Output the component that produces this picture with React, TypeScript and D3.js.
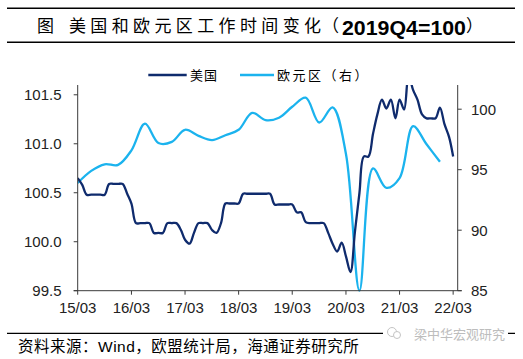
import React from "react";
import * as d3 from "d3";

// US average working hours, monthly from 2015-03 (left axis, 2019Q4=100)
const usValues: number[] = [
  100.65, 100.58, 100.48, 100.48, 100.48, 100.48, 100.48, 100.59, 100.59, 100.59,
  100.59, 100.49, 100.39, 100.19, 100.19, 100.19, 100.19, 100.09, 100.09, 100.09,
  100.19, 100.19, 100.19, 100.12, 100.02, 99.98, 100.09, 100.19, 100.19, 100.19,
  100.12, 100.09, 100.19, 100.39, 100.39, 100.39, 100.39, 100.49, 100.49, 100.49,
  100.49, 100.49, 100.49, 100.49, 100.38, 100.38, 100.38, 100.38, 100.38, 100.3,
  100.3, 100.2, 100.19, 100.19, 100.19, 100.19, 100.09, 99.98, 99.9, 99.99,
  99.85, 99.69, 100.1, 100.5, 100.87, 100.87, 101.1, 101.3, 101.45, 101.36,
  101.45, 101.26, 101.45, 101.35, 101.7, 101.55, 101.45, 101.3, 101.26, 101.26,
  101.26, 101.37, 101.2, 101.07, 100.87,
];

// Euro area working hours, quarterly from 2015-03 (right axis)
const euValues: number[] = [
  93.9, 94.9, 95.45, 95.4, 96.6, 98.8, 97.2, 97.3, 98.3, 97.8,
  97.45, 97.85, 98.3, 99.7, 99.1, 99.3, 100.2, 100.95, 98.9, 100.15,
  96.3, 85.0, 95.1, 93.5, 94.3, 98.6, 97.1, 95.66,
];

const xTickLabels = ["15/03", "16/03", "17/03", "18/03", "19/03", "20/03", "21/03", "22/03"];
const leftTicks = [99.5, 100.0, 100.5, 101.0, 101.5];
const rightTicks = [85, 90, 95, 100];
const seriesNames = ["美国", "欧元区（右）"];

const DARK = "#0f2b6d";
const LIGHT = "#1bb3ee";
const AXIS = "#3a3a3a";
const CJK = "'Noto Sans CJK SC', 'Noto Sans', sans-serif";
const LAT = "'Liberation Sans', Arial, sans-serif";

const monthDate = (i: number) => new Date(2015, 2 + i, 1);
const quarterDate = (i: number) => new Date(2015, 2 + 3 * i, 1);
const labelDate = (s: string) => {
  const [yy, mm] = s.split("/").map(Number);
  return new Date(2000 + yy, mm - 1, 1);
};

export default function App() {
  const L = 77.7, R = 457.7, T = 85, B = 290.7;
  const x = d3.scaleTime().domain([new Date(2015, 2, 1), new Date(2022, 3, 1)]).range([L, R]);
  const yL = d3.scaleLinear().domain([99.5, 101.6]).range([B, T]);
  const yR = d3.scaleLinear().domain([85, 102]).range([B, T]);

  const usLine = d3
    .line<number>()
    .x((_, i) => x(monthDate(i)))
    .y((d) => yL(d))
    .curve(d3.curveCatmullRom.alpha(0.5));
  const euLine = d3
    .line<number>()
    .x((_, i) => x(quarterDate(i)))
    .y((d) => yR(d))
    .curve(d3.curveCatmullRom.alpha(0.5));

  return (
    <svg
      width={523}
      height={359}
      style={{ position: "absolute", left: 0, top: 0, background: "#fff" }}
    >
      <defs>
        <clipPath id="plot">
          <rect x={L} y={T} width={R - L} height={B - T + 4} />
        </clipPath>
      </defs>
      <rect x={0} y={0} width={523} height={359} fill="#fff" />

      {/* title */}
      <line x1={7} x2={515} y1={8.3} y2={8.3} stroke="#000" strokeWidth={1.4} />
      <line x1={7} x2={515} y1={42.3} y2={42.3} stroke="#000" strokeWidth={1.4} />
      <text x={37} y={31.5} fontFamily={CJK} fontSize={17} fill="#000">图</text>
      <text x={69} y={31.5} fontFamily={CJK} fontSize={17} fill="#000" textLength={252} lengthAdjust="spacing">
        美国和欧元区工作时间变化
      </text>
      <text x={322} y={31.5} fontFamily={CJK} fontSize={17} fill="#000">（</text>
      <text x={342} y={35} fontFamily={LAT} fontSize={21} fontWeight="bold" fill="#000" textLength={124} lengthAdjust="spacingAndGlyphs">
        2019Q4=100
      </text>
      <text x={466} y={31.5} fontFamily={CJK} fontSize={17} fill="#000">）</text>

      {/* legend */}
      <line x1={148.3} x2={186.7} y1={75} y2={75} stroke={DARK} strokeWidth={2.5} />
      <text x={190} y={80} fontFamily={CJK} fontSize={13} letterSpacing={1} fill="#000">{seriesNames[0]}</text>
      <line x1={240} x2={274} y1={75} y2={75} stroke={LIGHT} strokeWidth={2.5} />
      <text x={277} y={80} fontFamily={CJK} fontSize={13} letterSpacing={2.5} fill="#000">{seriesNames[1]}</text>

      {/* series */}
      <g clipPath="url(#plot)">
        <path d={euLine(euValues) || ""} fill="none" stroke={LIGHT} strokeWidth={2.3} />
        <path d={usLine(usValues) || ""} fill="none" stroke={DARK} strokeWidth={2.3} />
      </g>

      {/* axes */}
      <line x1={L} x2={L} y1={T} y2={B} stroke={AXIS} strokeWidth={1} />
      <line x1={R} x2={R} y1={T} y2={B} stroke={AXIS} strokeWidth={1} />
      <line x1={L - 4} x2={R + 4} y1={B} y2={B} stroke={AXIS} strokeWidth={1} />
      {leftTicks.map((t) => (
        <g key={"l" + t}>
          <line x1={L - 4} x2={L} y1={yL(t)} y2={yL(t)} stroke={AXIS} />
          <text x={61.5} y={yL(t)} dy="0.36em" textAnchor="end" fontFamily={LAT} fontSize={15} fill="#222">
            {t.toFixed(1)}
          </text>
        </g>
      ))}
      {rightTicks.map((t) => (
        <g key={"r" + t}>
          <line x1={R} x2={R + 4} y1={yR(t)} y2={yR(t)} stroke={AXIS} />
          <text x={471} y={yR(t)} dy="0.36em" textAnchor="start" fontFamily={LAT} fontSize={15} fill="#222">
            {t}
          </text>
        </g>
      ))}
      {xTickLabels.map((s) => {
        const xv = x(labelDate(s));
        return (
          <g key={s}>
            <line x1={xv} x2={xv} y1={B} y2={B + 4} stroke={AXIS} />
            <text x={xv} y={313} textAnchor="middle" fontFamily={LAT} fontSize={15} fill="#222">
              {s}
            </text>
          </g>
        );
      })}

      {/* footer */}
      <line x1={7} x2={515} y1={333.3} y2={333.3} stroke="#000" strokeWidth={1.2} />
      <rect x={383} y={324} width={125} height={19} fill="#fff" />
      <circle cx={392} cy={332} r={4.5} fill="none" stroke="#c4c4c4" strokeWidth={1} />
      <circle cx={397} cy={335} r={3.5} fill="#fff" stroke="#c4c4c4" strokeWidth={1} />
      <text x={414} y={339} fontFamily={CJK} fontSize={13} fill="#bdbdbd">梁中华宏观研究</text>
      <text x={18} y={352} fontFamily={CJK} fontSize={15.5} letterSpacing={0.5} fill="#000">
        资料来源：<tspan fontFamily={LAT}>Wind</tspan>，欧盟统计局，海通证券研究所
      </text>
    </svg>
  );
}
